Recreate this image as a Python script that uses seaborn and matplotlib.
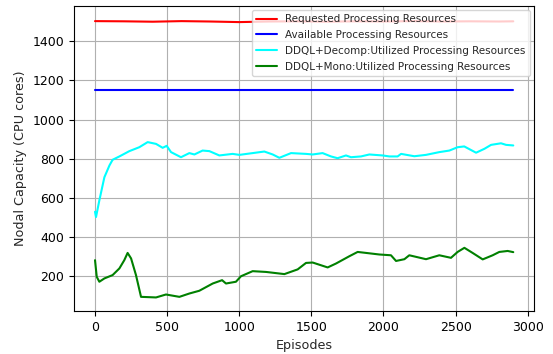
import matplotlib
matplotlib.use("Agg")
import matplotlib.pyplot as plt
import seaborn as sns
import pandas as pd

# Episode checkpoints and measured nodal capacity for each series
req_ep = [0, 200, 400, 600, 800, 1000, 1200, 1400, 1600, 1800, 2000, 2200, 2400, 2600, 2800, 2900]
req_val = [1502, 1501, 1499, 1502, 1500, 1497, 1500, 1501, 1499, 1501, 1500, 1502, 1500, 1501, 1500, 1501]

avail_ep = [0, 2900]
avail_val = [1150, 1150]

decomp_ep = [0, 7, 30, 65, 100, 122, 169, 238, 307, 365, 423, 469, 497, 527, 596, 654, 689,
             746, 793, 862, 954, 1001, 1093, 1174, 1232, 1278, 1359, 1463, 1509, 1578, 1636,
             1682, 1740, 1775, 1844, 1902, 1994, 2041, 2098, 2122, 2214, 2295, 2387, 2457,
             2514, 2560, 2642, 2700, 2746, 2815, 2850, 2900]
decomp_val = [530, 503, 588, 706, 766, 795, 812, 839, 859, 885, 876, 856, 866, 834, 808, 829, 822,
              842, 839, 817, 825, 820, 829, 837, 822, 805, 829, 825, 822, 829, 812,
              803, 817, 808, 812, 822, 817, 812, 812, 825, 813, 820, 834, 842,
              859, 863, 831, 851, 871, 879, 871, 868]

mono_ep = [0, 12, 30, 65, 122, 169, 203, 226, 250, 284, 319, 423, 492, 585, 654, 723, 816, 881,
           908, 977, 1012, 1093, 1186, 1313, 1405, 1463, 1509, 1613, 1671, 1763, 1821, 1879,
           1971, 2052, 2087, 2145, 2179, 2295, 2387, 2468, 2514, 2561, 2618, 2688, 2757, 2803,
           2861, 2900]
mono_val = [283, 198, 173, 190, 207, 241, 283, 320, 292, 207, 96, 93, 108, 96, 113, 127, 164, 181,
            164, 173, 201, 227, 223, 212, 236, 269, 271, 246, 266, 303, 325, 320,
            312, 308, 279, 288, 308, 288, 308, 295, 325, 346, 320, 287, 308, 325,
            330, 324]

labels = ["Requested Processing Resources",
          "Available Processing Resources",
          "DDQL+Decomp:Utilized Processing Resources",
          "DDQL+Mono:Utilized Processing Resources"]
colors = ["red", "blue", "cyan", "green"]

frames = []
for lab, ep, val in zip(labels, [req_ep, avail_ep, decomp_ep, mono_ep],
                        [req_val, avail_val, decomp_val, mono_val]):
    frames.append(pd.DataFrame({"Episodes": ep, "Capacity": val, "Series": lab}))
df = pd.concat(frames, ignore_index=True)

sns.set_style("ticks", {"axes.grid": True, "grid.color": "#b0b0b0",
                        "axes.edgecolor": "black"})
plt.rcParams["font.family"] = ["DejaVu Sans"]

fig = plt.figure(figsize=(5.53, 3.54), dpi=100)
ax = fig.add_axes([0.134, 0.121, 0.832, 0.862])

sns.lineplot(data=df, x="Episodes", y="Capacity", hue="Series",
             hue_order=labels, palette=colors, linewidth=1.5, ax=ax,
             estimator=None, sort=False)

ax.grid(True, color="#b0b0b0", linewidth=0.8)
ax.set_xlabel("Episodes", fontsize=9.2)
ax.set_ylabel("Nodal Capacity (CPU cores)", fontsize=9.2)
ax.set_xticks([0, 500, 1000, 1500, 2000, 2500, 3000])
ax.set_yticks([200, 400, 600, 800, 1000, 1200, 1400])
ax.tick_params(labelsize=9.0, direction="out", length=3.5, width=0.8, colors="black")
ax.set_xlim(-145, 3045)
ax.set_ylim(23, 1579)
for s in ax.spines.values():
    s.set_linewidth(0.8)
    s.set_color("black")

leg = ax.legend(loc="upper right", fontsize=7.5, framealpha=0.8,
                handlelength=2.0, borderaxespad=0.4, labelspacing=0.55)
leg.get_frame().set_edgecolor("#cccccc")

fig.savefig("out.png", dpi=100)
